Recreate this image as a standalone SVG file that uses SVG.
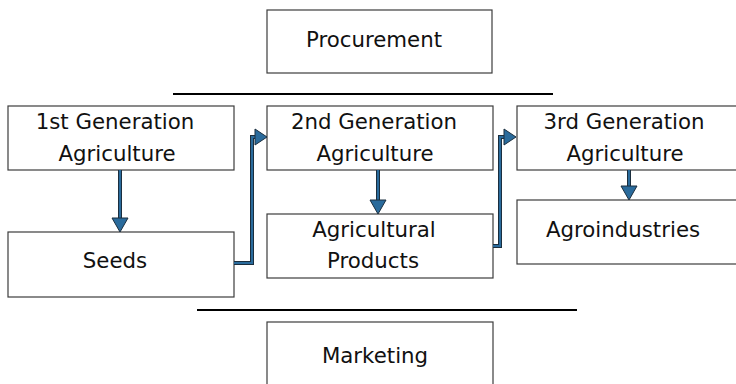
<svg xmlns="http://www.w3.org/2000/svg" width="736" height="384" viewBox="0 0 736 384">
  <style>
    .box { fill: #ffffff; stroke: #3c3c3c; stroke-width: 1.2; }
    .lbl { font-family: "DejaVu Sans", Verdana, sans-serif; font-size: 21.3px; fill: #111111; text-anchor: middle; }
    .rule { stroke: #000000; stroke-width: 2; }
    .wire-out { fill: none; stroke: #1b2e3e; stroke-width: 4; stroke-linejoin: miter; }
    .wire-in { fill: none; stroke: #2a6b9c; stroke-width: 2; stroke-linejoin: miter; }
    .head { fill: #2a6b9c; stroke: #1b2e3e; stroke-width: 1; stroke-linejoin: miter; }
  </style>
  <rect width="736" height="384" fill="#ffffff"/>

  <g id="procurement">
    <rect class="box" x="267" y="10" width="225" height="63"/>
    <text class="lbl" x="374" y="47">Procurement</text>
  </g>

  <g id="separators">
    <line class="rule" x1="173" y1="94" x2="553" y2="94"/>
    <line class="rule" x1="197" y1="310" x2="577" y2="310"/>
  </g>

  <g id="gen1">
    <rect class="box" x="8" y="106" width="226" height="64"/>
    <text class="lbl" x="115" y="129">1st Generation</text>
    <text class="lbl" x="117" y="161">Agriculture</text>
  </g>

  <g id="seeds">
    <rect class="box" x="8" y="232" width="226" height="65"/>
    <text class="lbl" x="115" y="268">Seeds</text>
  </g>

  <g id="gen2">
    <rect class="box" x="267" y="106" width="226" height="64"/>
    <text class="lbl" x="374" y="129">2nd Generation</text>
    <text class="lbl" x="375" y="161">Agriculture</text>
  </g>

  <g id="agri-products">
    <rect class="box" x="267" y="214" width="226" height="64"/>
    <text class="lbl" x="374" y="237">Agricultural</text>
    <text class="lbl" x="373" y="268">Products</text>
  </g>

  <g id="gen3">
    <rect class="box" x="517" y="106" width="226" height="64"/>
    <text class="lbl" x="624" y="129">3rd Generation</text>
    <text class="lbl" x="625" y="161">Agriculture</text>
  </g>

  <g id="agroindustries">
    <rect class="box" x="517" y="200" width="226" height="64"/>
    <text class="lbl" x="623" y="237">Agroindustries</text>
  </g>

  <g id="marketing">
    <rect class="box" x="267" y="322" width="226" height="70"/>
    <text class="lbl" x="375" y="363">Marketing</text>
  </g>

  <g id="connectors">
    <!-- gen1 to seeds -->
    <path class="wire-out" d="M120 170 V219"/>
    <path class="wire-in" d="M120 170 V219"/>
    <polygon class="head" points="112,218 128,218 120,232"/>
    <!-- seeds to gen2 -->
    <path class="wire-out" d="M234 263 H252 V137 H256"/>
    <path class="wire-in" d="M234 263 H252 V137 H256"/>
    <polygon class="head" points="255,129 267,137 255,145"/>
    <!-- gen2 to agricultural products -->
    <path class="wire-out" d="M378 170 V201"/>
    <path class="wire-in" d="M378 170 V201"/>
    <polygon class="head" points="370,200 386,200 378,214"/>
    <!-- agricultural products to gen3 -->
    <path class="wire-out" d="M493 246 H500 V137 H505"/>
    <path class="wire-in" d="M493 246 H500 V137 H505"/>
    <polygon class="head" points="504,129 516,137 504,145"/>
    <!-- gen3 to agroindustries -->
    <path class="wire-out" d="M629 170 V187"/>
    <path class="wire-in" d="M629 170 V187"/>
    <polygon class="head" points="621,186 637,186 629,200"/>
  </g>
</svg>
